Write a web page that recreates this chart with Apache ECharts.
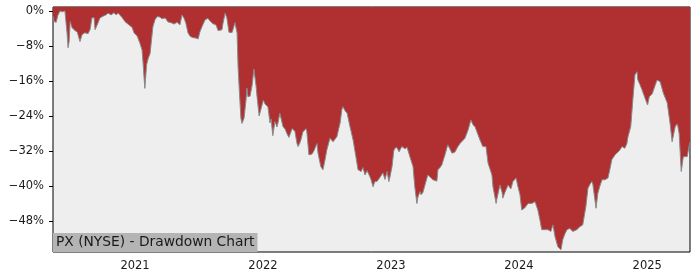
<!DOCTYPE html>
<html>
<head>
<meta charset="utf-8">
<script src="https://cdn.jsdelivr.net/npm/echarts@6/dist/echarts.min.js"></script>
<style>html,body{margin:0;padding:0;background:#fff;}#c{width:700px;height:280px;}</style>
</head>
<body>
<div id="c"></div>
<script>
var dates = [
"2020-05-12","2020-05-15","2020-05-21","2020-05-26","2020-06-01","2020-06-07","2020-06-15","2020-06-21","2020-06-24","2020-06-27",
"2020-06-30","2020-07-05","2020-07-14","2020-07-20","2020-07-25","2020-07-28","2020-08-03","2020-08-11","2020-08-20","2020-08-26",
"2020-08-31","2020-09-06","2020-09-09","2020-09-15","2020-09-23","2020-10-02","2020-10-10","2020-10-16","2020-10-25","2020-11-02",
"2020-11-08","2020-11-14","2020-11-19","2020-11-25","2020-12-04","2020-12-09","2020-12-15","2020-12-24","2020-12-29",
"2021-01-07","2021-01-15","2021-01-21","2021-01-24","2021-01-26","2021-01-29","2021-02-03","2021-02-07","2021-02-13","2021-02-17",
"2021-02-21","2021-02-27","2021-03-05","2021-03-13","2021-03-19","2021-03-28","2021-04-05","2021-04-14","2021-04-22","2021-05-01",
"2021-05-09","2021-05-15","2021-05-21","2021-05-26","2021-06-01","2021-06-07","2021-06-15","2021-06-24","2021-06-30","2021-07-05",
"2021-07-11","2021-07-20","2021-07-28","2021-08-03","2021-08-11","2021-08-20","2021-08-26","2021-08-31","2021-09-06","2021-09-09",
"2021-09-15","2021-09-20","2021-09-26","2021-10-05","2021-10-13","2021-10-19","2021-10-22","2021-10-26","2021-10-30","2021-11-02",
"2021-11-05","2021-11-08","2021-11-14","2021-11-16","2021-11-19","2021-11-22","2021-11-25","2021-12-01","2021-12-06","2021-12-12",
"2021-12-15","2021-12-21","2021-12-26",
"2022-01-02","2022-01-07","2022-01-09","2022-01-15","2022-01-21","2022-01-24","2022-01-29","2022-02-04","2022-02-10","2022-02-13",
"2022-02-18","2022-02-27","2022-03-05","2022-03-10","2022-03-16","2022-03-19","2022-03-25","2022-03-30","2022-04-02","2022-04-08",
"2022-04-11","2022-04-16","2022-04-19","2022-04-25","2022-05-04","2022-05-06","2022-05-12","2022-05-15","2022-05-21","2022-05-26",
"2022-05-29","2022-06-04","2022-06-07","2022-06-12","2022-06-15","2022-06-21","2022-06-27","2022-07-02","2022-07-11","2022-07-20",
"2022-07-25","2022-07-31","2022-08-03","2022-08-09","2022-08-14","2022-08-17","2022-08-23","2022-08-29","2022-09-06","2022-09-15",
"2022-09-23","2022-09-29","2022-10-08","2022-10-13","2022-10-19","2022-10-25","2022-11-02","2022-11-05","2022-11-11","2022-11-16",
"2022-11-22","2022-12-01","2022-12-09","2022-12-15","2022-12-21","2022-12-26","2022-12-29",
"2023-01-04","2023-01-09","2023-01-12","2023-01-18","2023-01-24","2023-01-27","2023-02-01","2023-02-04","2023-02-10","2023-02-16",
"2023-02-24","2023-03-05","2023-03-10","2023-03-16","2023-03-19","2023-03-25","2023-03-28","2023-04-02","2023-04-08","2023-04-16",
"2023-04-22","2023-05-01","2023-05-06","2023-05-12","2023-05-15","2023-05-21","2023-05-26","2023-06-04","2023-06-12","2023-06-18",
"2023-06-24","2023-07-02","2023-07-11","2023-07-17","2023-07-22","2023-07-31","2023-08-09","2023-08-17","2023-08-23","2023-08-29",
"2023-09-03","2023-09-12","2023-09-20","2023-09-29","2023-10-05","2023-10-10","2023-10-16","2023-10-19","2023-10-28","2023-10-30",
"2023-11-08","2023-11-14","2023-11-16","2023-11-22","2023-12-01","2023-12-09","2023-12-15","2023-12-24","2023-12-28",
"2024-01-04","2024-01-09","2024-01-18","2024-01-27","2024-02-01","2024-02-07","2024-02-16","2024-02-24","2024-03-01","2024-03-06",
"2024-03-15","2024-03-24","2024-04-01","2024-04-07","2024-04-13","2024-04-21","2024-04-30","2024-05-05","2024-05-11","2024-05-17",
"2024-05-25","2024-06-03","2024-06-14","2024-06-23","2024-07-01","2024-07-10","2024-07-16","2024-07-21","2024-07-27","2024-07-30",
"2024-08-08","2024-08-13","2024-08-19","2024-08-25","2024-09-02","2024-09-11","2024-09-17","2024-09-22","2024-10-01","2024-10-09",
"2024-10-15","2024-10-21","2024-10-29","2024-11-04","2024-11-07","2024-11-15","2024-11-21","2024-11-27","2024-12-03","2024-12-05",
"2024-12-11","2024-12-17","2024-12-26",
"2025-01-02","2025-01-07","2025-01-15","2025-01-24","2025-01-29","2025-02-07","2025-02-16","2025-02-27","2025-03-07","2025-03-13",
"2025-03-19","2025-03-22","2025-03-28","2025-04-02","2025-04-08","2025-04-14","2025-04-19","2025-04-25","2025-05-01","2025-05-03"
];
var drawdown = [
-1.2,-2.4,-2.6,-1.0,0,-0.2,0,-5,-8.4,-7,
-2.4,-3.8,-4.5,-4.8,-5.2,-7,-5.4,-5.0,-5.2,-4.2,
-1.6,-1.5,-4.3,-3.2,-1.6,-1.2,-0.9,-0.5,-0.9,-0.4,
-0.9,-0.5,-0.3,-1.5,-2.5,-2.2,-3.2,-3.8,-5,
-5.7,-7.4,-8.9,-12,-14.5,-17.7,-12.3,-11,-9.7,-6.6,
-3.6,-2,-1.3,-1.4,-1.8,-1.6,-2.5,-2.7,-3.0,-2.6,
-3.2,-0.9,-1.7,-2.8,-5,-5.8,-6.1,-6.2,-6.4,-4.8,
-3.6,-2.0,-1.7,-2.3,-2.9,-3.2,-4.5,-4.8,-4.3,-2.8,
-0.5,-1.6,-4.9,-4.9,-2.7,-5,-13,-19,-24.5,-25.7,
-26,-24.5,-20,-17.6,-19.6,-20,-19.5,-17,-13.3,-17,
-19.6,-24,-24.3,
-20.4,-21.3,-21,-21.9,-25.6,-24.7,-28.5,-25.3,-26.5,-25.5,
-23.4,-26.4,-27,-28,-28.9,-28.5,-26.9,-27.2,-27.5,-30.3,
-31,-30.2,-29.5,-27.6,-26.9,-27.6,-32.9,-32.5,-32.7,-32,
-31.8,-30.3,-32.5,-34.5,-35.6,-36.3,-34,-31.8,-29.1,-29.9,
-29.5,-28.7,-27.6,-25.6,-22.5,-21.9,-22.8,-23.4,-26.4,-29.5,
-33.3,-36.3,-36.7,-35.8,-37.5,-36.5,-37.9,-38.5,-40.2,-39,
-39,-38,-37,-38.5,-36.7,-39,-38,
-35.6,-32,-31.4,-31.2,-32.2,-32.2,-31,-30.6,-31.5,-31.2,
-33.3,-35.6,-40.2,-44,-42.5,-41.3,-42,-41.5,-39.8,-37.5,
-37.9,-38.6,-38.5,-38.9,-36.3,-35.8,-35.2,-32.9,-30.6,-31.5,
-32.5,-32.3,-31,-30.3,-30.3,-29.1,-27.2,-24.9,-26,-26.5,
-27.6,-29.5,-31,-31,-34.8,-36,-37.5,-40.2,-44,-43,
-39.8,-41.5,-42.8,-41.5,-39.8,-40.7,-39,-38.2,-39.8,
-42,-45.5,-45,-44,-44.3,-44,-43.6,-45.5,-47.8,-50,
-50,-50,-50.4,-48.9,-51.6,-53.9,-54.6,-52.3,-51,-50,
-49.7,-50.4,-50,-49.3,-48.9,-44.7,-40.5,-39.7,-39,-39.7,
-45.1,-41.7,-40,-38.6,-38.6,-38.2,-36,-34,-32.9,-32.3,
-31.8,-31,-31.4,-30.3,-28.8,-26.4,-20.3,-14.6,-13.9,-15.7,
-16.8,-18,-20,
-21.5,-19.6,-19,-16.9,-15.8,-16.2,-18.8,-21,-25.6,-29.9,
-27.5,-26.4,-25.8,-28,-36.7,-33.3,-33,-33.3,-30.6,-30
];
var yTicks = [-48, -40, -32, -24, -16, -8, 0];
var xTickYears = ["2021", "2022", "2023", "2024", "2025"];
var titleText = "PX (NYSE) - Drawdown Chart";

function ts(s) { return echarts.number.parseDate(s).getTime(); }
var seriesData = dates.map(function (d, i) { return [ts(d), drawdown[i]]; });
var xTickVals = xTickYears.map(function (y) { return ts(y + "-01-01"); });

var chart = echarts.init(document.getElementById('c'), null, {renderer: 'canvas'});
chart.setOption({
  animation: false,
  backgroundColor: '#ffffff',
  title: {
    text: titleText,
    left: 53,
    bottom: 28,
    padding: [2, 3, 2, 3],
    backgroundColor: '#b4b4b4',
    textStyle: {fontFamily: 'DejaVu Sans', fontSize: 13.8, fontWeight: 'normal', color: '#1a1a1a', lineHeight: 15}
  },
  grid: {
    left: 53, right: 10, top: 7, bottom: 28,
    show: true, backgroundColor: '#eeeeee', borderColor: '#000', borderWidth: 1,
    containLabel: false
  },
  xAxis: {
    type: 'value',
    min: ts('2020-05-12'),
    max: ts('2025-05-03'),
    axisLine: {show: false},
    splitLine: {show: false},
    axisTick: {show: true, length: 4, lineStyle: {color: '#000'}, customValues: xTickVals},
    axisLabel: {
      customValues: xTickVals,
      margin: 8,
      fontFamily: 'DejaVu Sans', fontSize: 11.5, color: '#1a1a1a',
      formatter: function (v) { return String(new Date(v).getFullYear()); }
    }
  },
  yAxis: {
    type: 'value',
    min: -55.1, max: 0.9,
    axisLine: {show: false},
    splitLine: {show: false},
    axisTick: {show: true, length: 4, lineStyle: {color: '#000'}, customValues: yTicks},
    axisLabel: {
      customValues: yTicks,
      margin: 9,
      fontFamily: 'DejaVu Sans', fontSize: 11.5, color: '#1a1a1a',
      formatter: function (v) { return (v < 0 ? '\u2212' + Math.abs(v) : String(v)) + '%'; }
    }
  },
  series: [{
    type: 'line',
    data: seriesData,
    symbol: 'none',
    z: 1,
    lineStyle: {color: '#8a8a8a', width: 1},
    areaStyle: {origin: 'end', color: '#b03032', opacity: 1}
  }]
});
</script>
</body>
</html>
